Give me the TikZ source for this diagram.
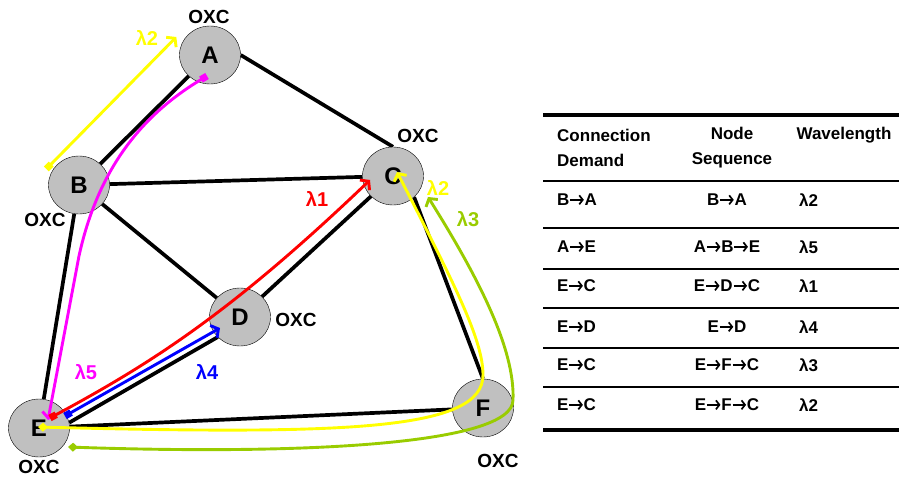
\documentclass[tikz,border=0pt]{standalone}
\usepackage{fontspec}
\setmainfont{Liberation Sans}
\usetikzlibrary{arrows.meta,shapes.geometric,backgrounds}
\definecolor{oxcgray}{RGB}{192,192,192}
\definecolor{lgreen}{RGB}{153,204,0}
\definecolor{lyellow}{RGB}{255,255,0}
\definecolor{lmagenta}{RGB}{255,0,255}
\definecolor{lred}{RGB}{255,0,0}
\definecolor{lblue}{RGB}{0,0,255}
% bold arrow used between node names in the table
\newcommand\hop{\tikz[x=1pt,y=1pt,baseline=0pt]\draw[line width=1.7pt,-{Straight Barb[length=3.5pt,width=9pt]}] (0.5,6) -- (14,6);}
\tikzset{
  oxcnode/.style={ellipse, draw, thin, fill=oxcgray, minimum width=61pt, minimum height=58pt, inner sep=0pt, font=\bfseries\fontsize{24}{26}\selectfont},
  oxclabel/.style={font=\bfseries\fontsize{19}{22}\selectfont, inner sep=0pt},
  link/.style={line width=3.7pt},
  lightpath/.style={line width=2.9pt},
  lam/.style={font=\bfseries\fontsize{20}{23}\selectfont, inner sep=0pt},
  barb/.tip={Straight Barb[length=5.5pt,width=14pt]},
  sq/.tip={Square[length=7pt,width=7pt]},
  dia/.tip={Diamond[length=10pt,width=9pt]},
  cell/.style={font=\bfseries\fontsize{17}{25}\selectfont, inner sep=0pt},
}
\begin{document}
\begin{tikzpicture}[x=1pt,y=-1pt]
\useasboundingbox (0,0) rectangle (899,481);
% OXC nodes
\node[oxcnode] (A) at (210,55) {A};
\node[oxcnode] (B) at (79,185) {B};
\node[oxcnode] (C) at (393,176) {C};
\node[oxcnode] (D) at (240,317) {D};
\node[oxcnode] (E) at (39,428) {E};
\node[oxcnode] (F) at (483,408) {F};
\node[oxclabel] (oxcA) at (209,17) {OXC};
\node[oxclabel] (oxcB) at (45,220) {OXC};
\node[oxclabel] (oxcC) at (418,136) {OXC};
\node[oxclabel] (oxcD) at (296,320) {OXC};
\node[oxclabel] (oxcE) at (39,467) {OXC};
\node[oxclabel] (oxcF) at (498,461) {OXC};
% fibre links
\begin{scope}[on background layer]
\draw[link](A) -- (B);
\draw[link](A.east) -- (C.north);
\draw[link](B) -- (C);
\draw[link](B) -- (D);
\draw[link](B) -- (E);
\draw[link](D) -- (C);
\draw[link](E.10) -- (D.222);
\draw[link](E) -- (F);
\draw[link](C.-45) -- (F.north);
\end{scope}
% lightpaths
\draw[lightpath, lyellow, sq-barb] ([shift={(-2,-16)}]B.west) -- ([shift={(-3,-18)}]A.west);
\draw[lightpath, lmagenta, sq-barb] ([shift={(-3,21)}]A.center) .. controls (150,110) and (100,160) .. (79,256) -- ([shift={(9,-8)}]E.center);
\draw[lightpath, lred, sq-barb] ([shift={(11,-10)}]E.center) .. controls (150,364) and (230,314) .. ([shift={(-23,4)}]C.center);
\draw[lightpath, lblue, sq-barb] ([shift={(26,-12)}]E.center) -- ([shift={(-20,11)}]D.center);
\draw[lightpath, lyellow, dia-barb] ([shift={(-1,-1)}]E.center) .. controls (350,435) and (483,430) .. (483,375) .. controls (483,340) and (455,285) .. ([shift={(4,-4)}]C.center);
\draw[lightpath, lgreen, dia-barb] ([shift={(29,19)}]E.center) .. controls (300,455) and (513,445) .. (513,400) .. controls (515,350) and (480,280) .. ([shift={(35,21)}]C.center);
\node[lam, lyellow] (lamBA) at (147,38) {λ2};
\node[lam, lmagenta] (lamAE) at (86,372) {λ5};
\node[lam, lred] (lamEDC) at (317,199) {λ1};
\node[lam, lblue] (lamED) at (207,372) {λ4};
\node[lam, lyellow] (lamEFCa) at (438,188) {λ2};
\node[lam, lgreen] (lamEFCb) at (468,219) {λ3};
% wavelength assignment table
\draw[line width=4pt] (543,115) -- (899,115);
\draw[line width=4pt] (543,430) -- (899,430);
\foreach \y in {181,228,269,308,348,387}
  \draw[line width=2pt] (543,\y) -- (899,\y);
\node[cell, anchor=west, align=left] (hdem) at (557,147.5) {Connection\\Demand};
\node[cell, align=center] (hseq) at (732,147.5) {Node\\Sequence};
\node[cell] (hlam) at (844,135) {Wavelength};
\foreach \y/\dem/\seq/\wl [count=\i] in {200/B\hop A/B\hop A/λ2, 247/A\hop E/A\hop B\hop E/λ5, 286/E\hop C/E\hop D\hop C/λ1, 327/E\hop D/E\hop D/λ4, 365/E\hop C/E\hop F\hop C/λ3, 405/E\hop C/E\hop F\hop C/λ2}{
  \node[cell, anchor=west] (dem\i) at (557,\y) {\dem};
  \node[cell] (seq\i) at (727,\y) {\seq};
  \node[cell, anchor=west] (wl\i) at (799,\y) {\wl};
}
\end{tikzpicture}
\end{document}
